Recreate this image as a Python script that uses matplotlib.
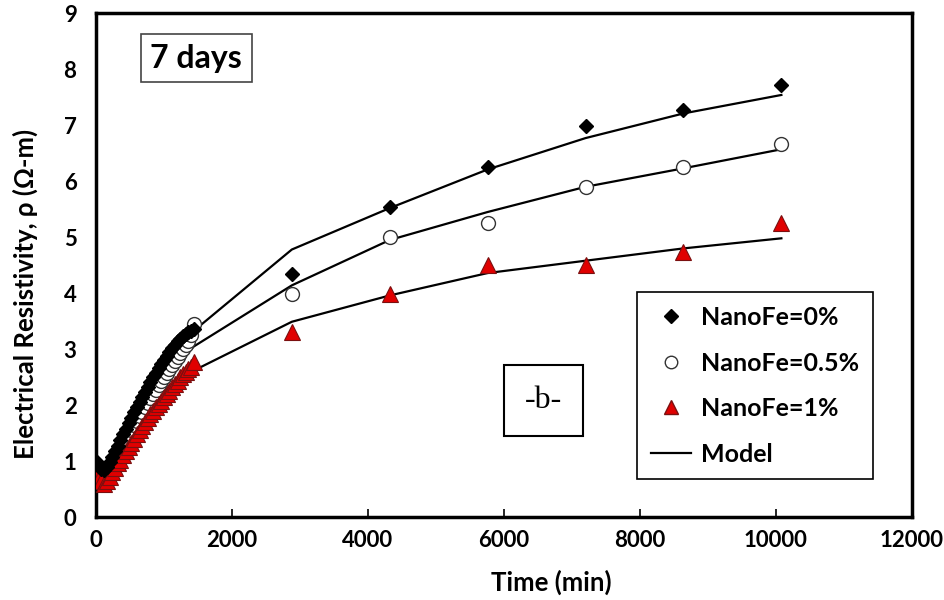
import matplotlib.pyplot as plt
from matplotlib.lines import Line2D

# tiempos (min): denso cada 40 min hasta 1440, luego diario
t_dense = [0, 40, 80, 120, 160, 200, 240, 280, 320, 360, 400, 440, 480, 520,
           560, 600, 640, 680, 720, 760, 800, 840, 880, 920, 960, 1000, 1040,
           1080, 1120, 1160, 1200, 1240, 1280, 1320, 1360, 1400, 1440]
t_daily = [2880, 4320, 5760, 7200, 8640, 10080]

fe0_dense = [1.00, 0.93, 0.86, 0.84, 0.90, 0.98, 1.08, 1.18, 1.28, 1.38, 1.48,
             1.58, 1.68, 1.78, 1.88, 1.97, 2.06, 2.15, 2.24, 2.33, 2.42, 2.50,
             2.58, 2.66, 2.74, 2.81, 2.88, 2.95, 3.02, 3.08, 3.14, 3.19, 3.24,
             3.28, 3.31, 3.33, 3.36]
fe05_dense = [0.85, 0.78, 0.72, 0.70, 0.75, 0.83, 0.92, 1.01, 1.10, 1.19, 1.28,
              1.37, 1.46, 1.55, 1.64, 1.72, 1.80, 1.88, 1.96, 2.04, 2.12, 2.20,
              2.28, 2.36, 2.44, 2.51, 2.58, 2.65, 2.72, 2.79, 2.86, 2.93, 3.00,
              3.07, 3.14, 3.25, 3.45]
fe1_dense = [0.78, 0.70, 0.64, 0.60, 0.64, 0.72, 0.80, 0.88, 0.96, 1.03, 1.11,
             1.18, 1.26, 1.33, 1.40, 1.48, 1.55, 1.62, 1.70, 1.77, 1.84, 1.90,
             1.96, 2.02, 2.08, 2.14, 2.20, 2.26, 2.32, 2.38, 2.44, 2.50, 2.55,
             2.60, 2.64, 2.68, 2.78]

fe0_daily = [4.34, 5.54, 6.25, 6.98, 7.27, 7.72]
fe05_daily = [3.98, 5.00, 5.26, 5.89, 6.25, 6.66]
fe1_daily = [3.31, 3.98, 4.50, 4.50, 4.73, 5.25]

# modelo
t_model = [0, 240, 480, 720, 960, 1200, 1440, 2880, 4320, 5760, 7200, 8640, 10080]
model_fe0 = [0.75, 1.05, 1.62, 2.20, 2.72, 3.08, 3.33, 4.78, 5.52, 6.21, 6.77, 7.21, 7.54]
model_fe05 = [0.70, 0.90, 1.40, 1.90, 2.36, 2.75, 3.05, 4.14, 4.95, 5.45, 5.90, 6.23, 6.57]
model_fe1 = [0.65, 0.78, 1.25, 1.68, 2.08, 2.40, 2.62, 3.49, 3.96, 4.36, 4.58, 4.80, 4.98]

plt.rcParams['font.family'] = ['Lato', 'DejaVu Sans']

fig = plt.figure(figsize=(9.45, 6), dpi=100)
ax = fig.add_axes([0.1016, 0.138, 0.8634, 0.84])

ax.plot(t_model, model_fe0, color='black', lw=1.6, zorder=2)
ax.plot(t_model, model_fe05, color='black', lw=1.6, zorder=2)
ax.plot(t_model, model_fe1, color='black', lw=1.6, zorder=2)

ax.plot(t_dense + t_daily, fe05_dense + fe05_daily, ls='none', marker='o', ms=10,
        mfc='white', mec='#333333', mew=1.0, zorder=3)
ax.plot(t_dense + t_daily, fe1_dense + fe1_daily, ls='none', marker='^', ms=11,
        mfc='#e00000', mec='#7a1010', mew=0.8, zorder=4)
ax.plot(t_dense + t_daily, fe0_dense + fe0_daily, ls='none', marker='D', ms=7.5,
        mfc='black', mec='black', zorder=5)

ax.set_xlim(0, 12000)
ax.set_ylim(0, 9)
ax.set_xticks(range(0, 12001, 2000))
ax.set_yticks(range(0, 10))
for s in ax.spines.values():
    s.set_linewidth(2.5)
ax.tick_params(axis='x', direction='in', length=6, width=1.2, labelsize=16, pad=9)
ax.tick_params(axis='y', direction='in', length=0, labelsize=16, pad=14)
for lab in ax.get_xticklabels() + ax.get_yticklabels():
    lab.set_fontweight('bold')

ax.set_xlabel('Time (min)', fontsize=18.5, fontweight='bold')
ax.set_ylabel('Electrical Resistivity, ρ (Ω-m)', fontsize=18.5, fontweight='bold')
ax.xaxis.set_label_coords(0.558, -0.129)
ax.yaxis.set_label_coords(-0.087, 0.442)
ax.xaxis.label.set_va('center')
ax.yaxis.label.set_va('center')

ax.text(0.123, 0.911, '7 days', transform=ax.transAxes, ha='center', va='center',
        fontsize=23, fontweight='bold',
        bbox=dict(boxstyle='square,pad=0.3', fc='white', ec='#444444', lw=1.2))
ax.text(0.548, 0.232, '-b-', transform=ax.transAxes, ha='center', va='center',
        fontsize=23, family='Liberation Serif',
        bbox=dict(boxstyle='square,pad=0.65', fc='white', ec='black', lw=1.5))

handles = [
    Line2D([], [], ls='none', marker='D', ms=7, mfc='black', mec='black'),
    Line2D([], [], ls='none', marker='o', ms=9, mfc='white', mec='#333333'),
    Line2D([], [], ls='none', marker='^', ms=10, mfc='#e00000', mec='#7a1010'),
    Line2D([], [], color='black', lw=1.6),
]
labels = ['NanoFe=0%', 'NanoFe=0.5%', 'NanoFe=1%', 'Model']
leg = ax.legend(handles, labels, loc='upper left', bbox_to_anchor=(0.663, 0.446),
                fancybox=False, edgecolor='black', framealpha=1,
                labelspacing=0.9, handlelength=1.6, handletextpad=0.4,
                borderpad=0.55, borderaxespad=0,
                prop={'weight': 'bold', 'size': 18})
leg.get_frame().set_linewidth(1.2)

plt.savefig('out.png', dpi=100)
